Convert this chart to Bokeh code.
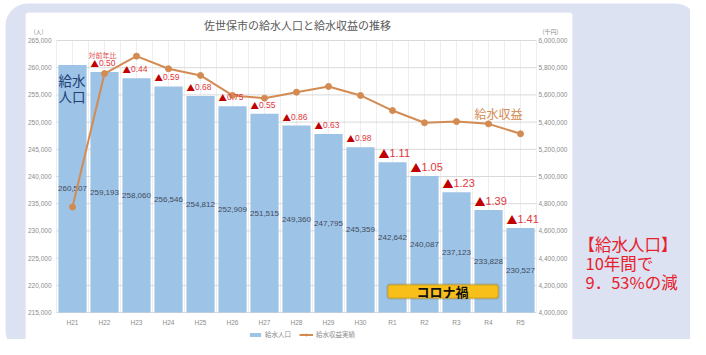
from bokeh.plotting import figure
from bokeh.models import (Range1d, LinearAxis, FixedTicker, NumeralTickFormatter,
                          ColumnDataSource, Label, BoxAnnotation, Legend, LegendItem)
from bokeh.core.properties import value
from bokeh.embed import file_html
from bokeh.resources import INLINE

# ---------------- data ----------------
years = ["H21", "H22", "H23", "H24", "H25", "H26", "H27", "H28", "H29", "H30",
         "R1", "R2", "R3", "R4", "R5"]
population = [260507, 259193, 258060, 256546, 254812, 252909, 251515, 249360,
              247795, 245359, 242642, 240087, 237123, 233828, 230527]
revenue = [4775000, 5757000, 5885000, 5792000, 5743000, 5596000, 5576000, 5620000,
           5662000, 5596000, 5485000, 5395000, 5404000, 5387000, 5314000]
yoy_decline = [0.50, 0.44, 0.59, 0.68, 0.75, 0.55, 0.86, 0.63, 0.98,
               1.11, 1.05, 1.23, 1.39, 1.41]
pop_ticks = list(range(215000, 265001, 5000))
rev_ticks = list(range(4000000, 6000001, 200000))

# ---------------- layout constants (pixels) ----------------
W, H = 690, 339
PL, PR, PT, PB = 56, 536, 40, 312       # plot area in canvas pixels
BAR_W = 0.88
CJK = "Noto Sans CJK JP"
LAV = "#DCE2F2"
BAR = "#9DC3E6"
ORANGE = "#D38B52"
GRAY = "#8C8C8C"

n = len(years)
xs = list(range(n))
upx = n / (PR - PL)                                  # x units per pixel
x_rng = Range1d(-0.5 - PL * upx, n - 0.5 + (W - PR) * upx)
pp = (pop_ticks[-1] - pop_ticks[0]) / (PB - PT)
y_rng = Range1d(pop_ticks[0] - (H - PB) * pp, pop_ticks[-1] + PT * pp)
rp = (rev_ticks[-1] - rev_ticks[0]) / (PB - PT)
r_rng = Range1d(rev_ticks[0] - (H - PB) * rp, rev_ticks[-1] + PT * rp)

p = figure(x_range=x_rng, y_range=y_rng, width=W, height=H,
           output_backend="svg", toolbar_location=None,
           min_border=0, x_axis_location=None, y_axis_location=None)
p.extra_y_ranges = {"rev": r_rng}
p.outline_line_color = None
p.border_fill_color = "white"
p.background_fill_color = "white"
p.xgrid.visible = False
p.ygrid.visible = False


def box(l, r, t, b, **kw):
    """box in canvas pixels (top-left origin)"""
    bx = BoxAnnotation(left=l, right=r, top=H - t, bottom=H - b,
                       left_units="screen", right_units="screen",
                       top_units="screen", bottom_units="screen", **kw)
    p.add_layout(bx)
    return bx


# background decorations
box(5, 697, 3, 352, fill_color=LAV, fill_alpha=1, line_color=None,
    border_radius=22, level="image")
box(25, 572, 12, 344, fill_color="white", fill_alpha=1, line_color="#E3E6EF",
    border_radius=3, level="image")

# grid lines (drawn from the tick lists)
vg = [i * 0.5 - 0.5 for i in range(2 * n + 1)]
p.segment(x0=vg, x1=vg, y0=pop_ticks[0], y1=pop_ticks[-1],
          line_color="#EEEEEE", line_width=1, level="underlay")
p.segment(x0=-0.5, x1=n - 0.5, y0=pop_ticks, y1=pop_ticks,
          line_color="#D9D9D9", line_width=1, level="underlay")

# axes
laxis = LinearAxis(ticker=FixedTicker(ticks=pop_ticks),
                   formatter=NumeralTickFormatter(format="0,0"),
                   fixed_location=-0.5)
raxis = LinearAxis(y_range_name="rev", ticker=FixedTicker(ticks=rev_ticks),
                   formatter=NumeralTickFormatter(format="0,0"),
                   fixed_location=n - 0.5)
baxis = LinearAxis(ticker=FixedTicker(ticks=xs),
                   major_label_overrides={i: y for i, y in zip(xs, years)},
                   fixed_location=pop_ticks[0])
p.add_layout(laxis, "left")
p.add_layout(raxis, "right")
p.add_layout(baxis, "below")
for ax in [laxis, raxis, baxis]:
    ax.axis_line_color = None
    ax.major_tick_line_color = None
    ax.minor_tick_line_color = None
    ax.major_tick_out = 0
    ax.major_tick_in = 0
    ax.minor_tick_out = 0
    ax.major_label_text_font_size = "6.5px"
    ax.major_label_text_color = GRAY
    ax.major_label_text_font = "Liberation Sans"
laxis.major_label_standoff = 5
raxis.major_label_standoff = 2
baxis.major_label_standoff = 6

# bars
bsrc = ColumnDataSource(dict(
    x=xs, top=population,
    mid=[(v + pop_ticks[0]) / 2 for v in population],
    lab=[f"{v:,}" for v in population]))
bars = p.vbar(x="x", top="top", bottom=pop_ticks[0], width=BAR_W, source=bsrc,
              fill_color=BAR, line_color=None)
p.text(x="x", y="mid", text="lab", source=bsrc, text_align="center",
       text_baseline="middle", text_font=value("Liberation Sans"),
       text_font_size=value("8px"), text_color="#3F4D5F")

# revenue line
line = p.line(x=xs, y=revenue, y_range_name="rev", line_color=ORANGE, line_width=2)
dots = p.scatter(x=xs, y=revenue, y_range_name="rev", size=6,
                 fill_color=ORANGE, line_color=ORANGE)

# year-on-year decline labels
sizes = [11 if v >= 1 else 8.5 for v in yoy_decline]
psrc = ColumnDataSource(dict(
    x=[i - BAR_W / 2 for i in xs[1:]], y=population[1:],
    num=[f"{v:.2f}" for v in yoy_decline],
    tri=["▲"] * len(yoy_decline),
    fs=[f"{s}px" for s in sizes],
    noff=sizes))
p.text(x="x", y="y", text="tri", source=psrc, text_align="left",
       text_baseline="middle", y_offset=-9,
       text_font=value(CJK), text_font_size="fs", text_color="#C00000")
p.text(x="x", y="y", text="num", source=psrc, text_align="left",
       text_baseline="middle", x_offset="noff", y_offset=-9,
       text_font=value("Liberation Sans"), text_font_size="fs", text_color="#E0383E")

# legend
legend = Legend(items=[LegendItem(label="給水人口", renderers=[bars]),
                       LegendItem(label="給水収益実績", renderers=[line, dots])],
                location=(248, H - 339), orientation="horizontal",
                label_text_font_size="6.5px", label_text_color=GRAY,
                label_text_font=CJK, glyph_width=14, glyph_height=5,
                label_height=8, label_standoff=3, spacing=8, padding=0, margin=0,
                background_fill_alpha=0, border_line_color=None)
p.add_layout(legend)


def lab(x, y, text, size, color, font=CJK, align="left", style="normal"):
    p.add_layout(Label(x=x, y=H - y, x_units="screen", y_units="screen", text=text,
                       text_font=font, text_font_size=size, text_color=color,
                       text_align=align, text_baseline="middle",
                       text_font_style=style))


lab(297, 24, "佐世保市の給水人口と給水収益の推移", "11px", "#595959", align="center")
lab(38, 31, "(人)", "6px", GRAY, align="center")
lab(550, 31, "(千円)", "6px", GRAY, align="center")
lab(58, 79, "給水", "13.5px", "#1F3F73")
lab(58, 95, "人口", "13.5px", "#1F3F73")
lab(88, 54, "対前年比", "7px", "#E05050")
lab(474, 113, "給水収益", "12px", ORANGE)

# コロナ禍 box
box(387, 498, 284, 298, fill_color="#F8BE1A", fill_alpha=1, line_color="#7A6E2E",
    line_width=2, border_radius=3, level="annotation")
lab(442, 291, "コロナ禍", "13px", "#111111", align="center", style="bold")

# right side text
lab(578, 243, "【給水人口】", "16.5px", "#E8202A")
lab(585, 262, "10年間で", "16.5px", "#E8202A")
lab(585, 281, "9．53%の減", "16.5px", "#E8202A")

open("out.html", "w").write(file_html(p, INLINE))
